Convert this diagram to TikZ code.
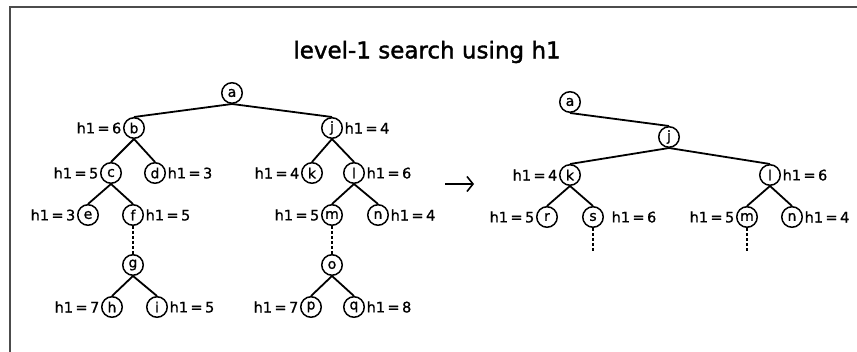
\documentclass[tikz,border=0pt]{standalone}
\usetikzlibrary{arrows.meta}
\usepackage{fontspec}
\setmainfont{DejaVu Sans}
\newfontfamily\heavyfont[FakeBold=1.6]{DejaVu Sans}
\newfontfamily\midfont[FakeBold=1.0]{DejaVu Sans}
\begin{document}
\begin{tikzpicture}[x=1pt,y=-1pt,
  st/.style={circle,draw,line width=1.5pt,minimum size=20.5pt,inner sep=0pt,font=\midfont\fontsize{14}{14}\selectfont},
  lab/.style={inner sep=1.5pt,font=\midfont\fontsize{14.5}{14.5}\selectfont},
  ed/.style={line width=1.8pt},
  dsh/.style={line width=1.8pt,dash pattern=on 3pt off 2pt}]
\useasboundingbox (0,0) rectangle (857,352);
\draw[line width=1.4pt,black!70] (10,352) -- (10,7) -- (857,7);
\node[font=\heavyfont\fontsize{23}{23}\selectfont] (title) at (427,52) {level-1 search using h1};
% left tree
\node[st] (a) at (232,93) {a};
\node[st] (b) at (134,128) {b};
\node[st] (j) at (332,128) {j};
\node[st] (c) at (111,173) {c};
\node[st] (d) at (155,173) {d};
\node[st] (k) at (312,173) {k};
\node[st] (l) at (354,173) {l};
\node[st] (e) at (88,215) {e};
\node[st] (f) at (133,215) {f};
\node[st] (m) at (332,215) {m};
\node[st] (n) at (378,215) {n};
\node[st] (g) at (133,265) {g};
\node[st] (o) at (332,265) {o};
\node[st] (h) at (112,307) {h};
\node[st] (i) at (157,307) {i};
\node[st] (p) at (311,307) {p};
\node[st] (q) at (354,307) {q};
\draw[ed] (a.south) -- (b.north);
\draw[ed] (a.south) -- (j.north);
\draw[ed] (b.south) -- (c.north);
\draw[ed] (b.south) -- (d.north);
\draw[ed] (j.south) -- (k.north);
\draw[ed] (j.south) -- (l.north);
\draw[ed] (c.south) -- (e.north);
\draw[ed] (c.south) -- (f.north);
\draw[ed] (l.south) -- (m.north);
\draw[ed] (l.south) -- (n.north);
\draw[dsh] (f.south) -- (g.north);
\draw[dsh] (m.south) -- (o.north);
\draw[ed] (g.south) -- (h.north);
\draw[ed] (g.south) -- (i.north);
\draw[ed] (o.south) -- (p.north);
\draw[ed] (o.south) -- (q.north);
\node[lab,anchor=east] (lb) at (b.west) {h1\,=\,6};
\node[lab,anchor=west] (lj) at (j.east) {h1\,=\,4};
\node[lab,anchor=east] (lc) at (c.west) {h1\,=\,5};
\node[lab,anchor=west] (ld) at (d.east) {h1\,=\,3};
\node[lab,anchor=east] (lk) at (k.west) {h1\,=\,4};
\node[lab,anchor=west] (ll) at (l.east) {h1\,=\,6};
\node[lab,anchor=east] (le) at (e.west) {h1\,=\,3};
\node[lab,anchor=west] (lf) at (f.east) {h1\,=\,5};
\node[lab,anchor=east] (lm) at (m.west) {h1\,=\,5};
\node[lab,anchor=west] (ln) at (n.east) {h1\,=\,4};
\node[lab,anchor=east] (lh) at (h.west) {h1\,=\,7};
\node[lab,anchor=west] (li) at (i.east) {h1\,=\,5};
\node[lab,anchor=east] (lp) at (p.west) {h1\,=\,7};
\node[lab,anchor=west] (lq) at (q.east) {h1\,=\,8};
% arrow
\coordinate (arrs) at (445,184);
\coordinate (arre) at (474,184);
\draw[line width=1.6pt,-{Straight Barb[length=6pt,width=15pt]}] (arrs) -- (arre);
% right tree
\node[st] (a2) at (570,102) {a};
\node[st] (j2) at (669,137) {j};
\node[st] (k2) at (570,175) {k};
\node[st] (l2) at (770,175) {l};
\node[st] (r2) at (547,217) {r};
\node[st] (s2) at (593,217) {s};
\node[st] (m2) at (747,217) {m};
\node[st] (n2) at (792,217) {n};
\coordinate (s2e) at (593,251);
\coordinate (m2e) at (747,251);
\draw[ed] (a2.south) -- (j2.north);
\draw[ed] (j2.south) -- (k2.north);
\draw[ed] (j2.south) -- (l2.north);
\draw[ed] (k2.south) -- (r2.north);
\draw[ed] (k2.south) -- (s2.north);
\draw[ed] (l2.south) -- (m2.north);
\draw[ed] (l2.south) -- (n2.north);
\draw[dsh] (s2.south) -- (s2e);
\draw[dsh] (m2.south) -- (m2e);
\node[lab,anchor=east] (lk2) at (k2.west) {h1\,=\,4};
\node[lab,anchor=west] (ll2) at (l2.east) {h1\,=\,6};
\node[lab,anchor=east] (lr2) at (r2.west) {h1\,=\,5};
\node[lab,anchor=west,xshift=6pt] (ls2) at (s2.east) {h1\,=\,6};
\node[lab,anchor=east] (lm2) at (m2.west) {h1\,=\,5};
\node[lab,anchor=west] (ln2) at (n2.east) {h1\,=\,4};
\end{tikzpicture}
\end{document}
